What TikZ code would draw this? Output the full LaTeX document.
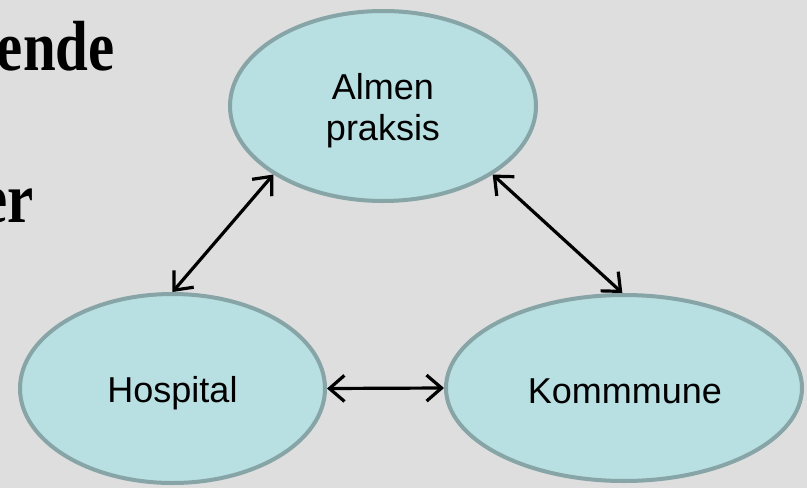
\documentclass[tikz,border=0pt]{standalone}
\usepackage{fontspec}
\setmainfont{Liberation Sans}
\newfontfamily\headfont[FakeStretch=0.83]{Liberation Serif}
\usetikzlibrary{shapes.geometric,arrows.meta}

\definecolor{slidebg}{RGB}{222,222,222}
\definecolor{ovalfill}{RGB}{184,223,226}
\definecolor{ovalline}{RGB}{135,164,166}

\tikzset{
  oval/.style={ellipse, draw=ovalline, fill=ovalfill, line width=4pt, inner sep=0pt},
  ovaltext/.style={anchor=base, inner sep=0pt, align=center,
    font=\fontsize{36}{41}\selectfont},
  headline/.style={anchor=base east, inner sep=0pt,
    font=\headfont\bfseries\fontsize{71}{80}\selectfont},
  barb/.tip={Straight Barb[length=15pt,width=26pt,line width=3.2pt]},
  link/.style={line width=3.2pt, black, barb-barb}
}

\begin{document}
\begin{tikzpicture}[x=1pt,y=-1pt]
  % slide background and fixed frame
  \fill[slidebg] (0,0) rectangle (807,488);
  \useasboundingbox (0,0) rectangle (807,488);

  % heading lines running off the left edge
  \begin{scope}
    \clip (0,0) rectangle (807,488);
    \node[headline] (h1) at (115,70) {ende};
    \node[headline] (h2) at (34,222) {er};
  \end{scope}

  % the three care sectors
  \node[oval, minimum width=306pt, minimum height=190pt] (almen) at (383,106) {};
  \node[oval, minimum width=305pt, minimum height=189pt] (hosp) at (172.5,388.5) {};
  \node[oval, minimum width=356pt, minimum height=186pt] (komm) at (624,388) {};

  % labels, placed by the baseline of their last line
  \node[ovaltext] (almen-t) at (383,140) {Almen\\praksis};
  \node[ovaltext] (hosp-t) at (172.5,402) {Hospital};
  \node[ovaltext] (komm-t) at (625,403) {Kommmune};

  % two-way links between the sectors
  \draw[link] (almen.212) -- (hosp.90);
  \draw[link] (almen.328) -- (komm.91);
  \draw[link] (hosp.east) -- (komm.west);
\end{tikzpicture}
\end{document}
